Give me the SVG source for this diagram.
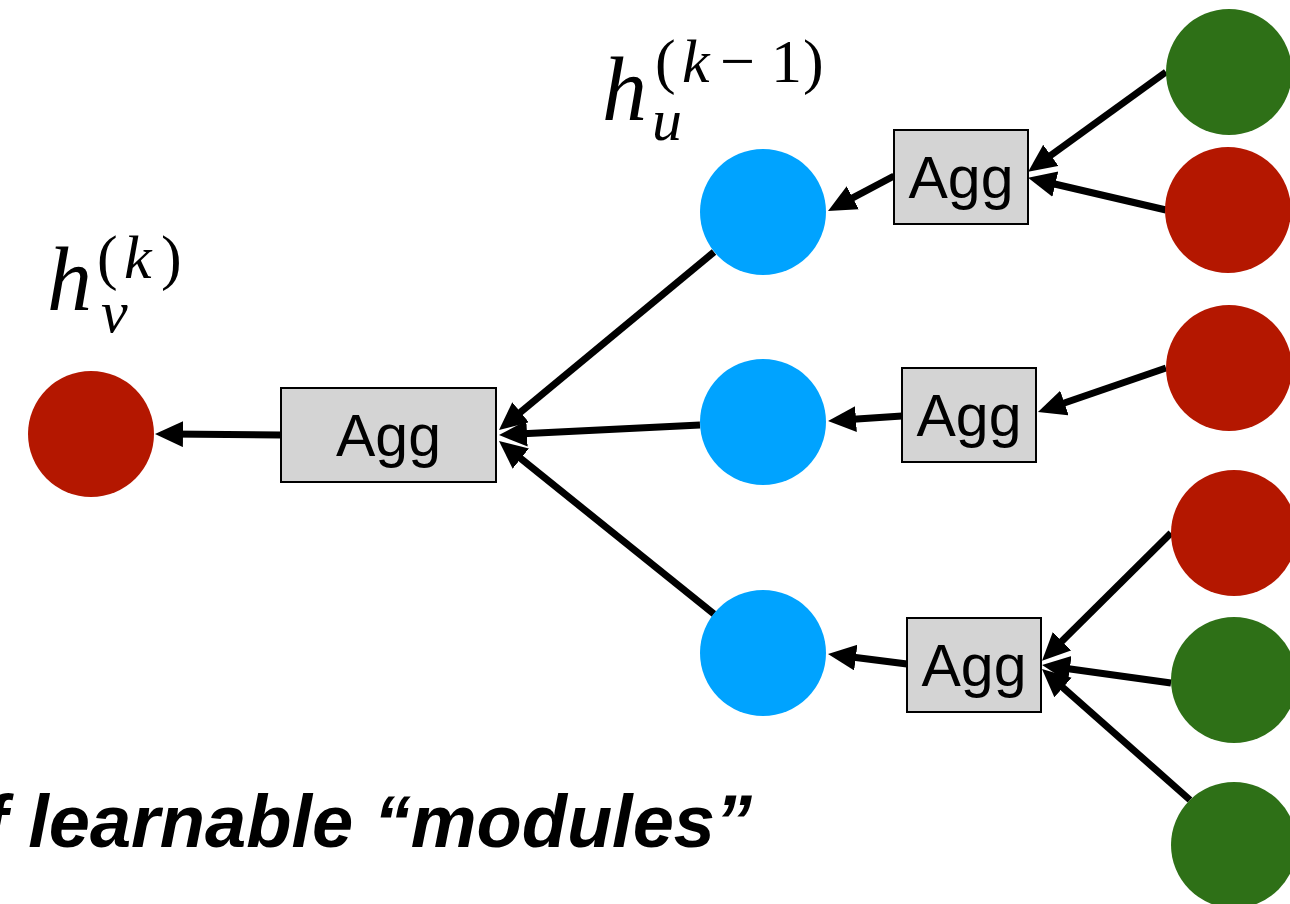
<svg xmlns="http://www.w3.org/2000/svg" width="1290" height="904" viewBox="0 0 1290 904">
<style>
.red{fill:#b41700}
.blue{fill:#00a3ff}
.green{fill:#2e7017}
.box rect{fill:#d4d4d4;stroke:#000;stroke-width:2}
.box text{font-family:"Liberation Sans",Arial,sans-serif;font-size:59px;text-anchor:middle;fill:#000}
.edges line{stroke:#000;stroke-width:7;marker-end:url(#ah)}
.math{font-family:"Liberation Serif","Times New Roman",serif;fill:#000}
.it{font-style:italic}
</style>
<defs>
<marker id="ah" markerUnits="userSpaceOnUse" markerWidth="30" markerHeight="28" refX="14" refY="13" orient="auto" viewBox="0 0 30 28">
<path d="M0,0 L28,13 L0,26 z" fill="#000"/>
</marker>
</defs>
<rect width="1290" height="904" fill="#fff"/>
<g id="connectors" class="edges">
<line x1="281" y1="435" x2="169" y2="434"/>
<line x1="714" y1="252" x2="509.8" y2="421.1"/>
<line x1="700" y1="425" x2="513" y2="434.3"/>
<line x1="714" y1="614" x2="509.9" y2="449.8"/>
<line x1="894" y1="176" x2="840.4" y2="204.4"/>
<line x1="902" y1="416" x2="842" y2="420.1"/>
<line x1="907" y1="664" x2="841.9" y2="655.8"/>
<line x1="1166" y1="72" x2="1039.5" y2="163.5"/>
<line x1="1166" y1="210" x2="1041.7" y2="181"/>
<line x1="1166" y1="368" x2="1051.2" y2="407.5"/>
<line x1="1171" y1="533" x2="1052" y2="651"/>
<line x1="1171" y1="683" x2="1055.9" y2="667"/>
<line x1="1190" y1="800" x2="1052.5" y2="678.3"/>
</g>
<g id="node-target"><circle class="red" cx="91" cy="434" r="63"/></g>
<g id="node-u1"><circle class="blue" cx="763" cy="212" r="63"/></g>
<g id="node-u2"><circle class="blue" cx="763" cy="422" r="63"/></g>
<g id="node-u3"><circle class="blue" cx="763" cy="653" r="63"/></g>
<g id="node-n1"><circle class="green" cx="1229" cy="72" r="63"/></g>
<g id="node-n2"><circle class="red" cx="1228" cy="210" r="63"/></g>
<g id="node-n3"><circle class="red" cx="1229" cy="368" r="63"/></g>
<g id="node-n4"><circle class="red" cx="1234" cy="533" r="63"/></g>
<g id="node-n5"><circle class="green" cx="1234" cy="680" r="63"/></g>
<g id="node-n6"><circle class="green" cx="1234" cy="845" r="63"/></g>
<g id="agg-main" class="box"><rect x="281" y="388" width="215" height="94"/><text x="388.5" y="456">Agg</text></g>
<g id="agg-top" class="box"><rect x="894" y="130" width="134" height="94"/><text x="961" y="198">Agg</text></g>
<g id="agg-mid" class="box"><rect x="902" y="368" width="134" height="94"/><text x="969" y="436">Agg</text></g>
<g id="agg-bot" class="box"><rect x="907" y="618" width="134" height="94"/><text x="974" y="686">Agg</text></g>
<g id="label-hv" class="math">
<text x="47" y="310" font-size="90" class="it">h</text>
<text x="97" y="278" font-size="62">(</text>
<text x="124" y="278" font-size="62" class="it">k</text>
<text x="161" y="278" font-size="62">)</text>
<text x="101" y="332" font-size="60" class="it">v</text>
</g>
<g id="label-hu" class="math">
<text x="602" y="120" font-size="90" class="it">h</text>
<text x="655" y="82" font-size="62">(</text>
<text x="682" y="82" font-size="62" class="it">k</text>
<text x="720" y="82" font-size="62">−</text>
<text x="771" y="82" font-size="62">1</text>
<text x="803" y="82" font-size="62">)</text>
<text x="652" y="140" font-size="60" class="it">u</text>
</g>
<text x="-17" y="847" font-family="'Liberation Sans',Arial,sans-serif" font-size="74" font-weight="bold" font-style="italic" fill="#000">f learnable “modules”</text>
</svg>
